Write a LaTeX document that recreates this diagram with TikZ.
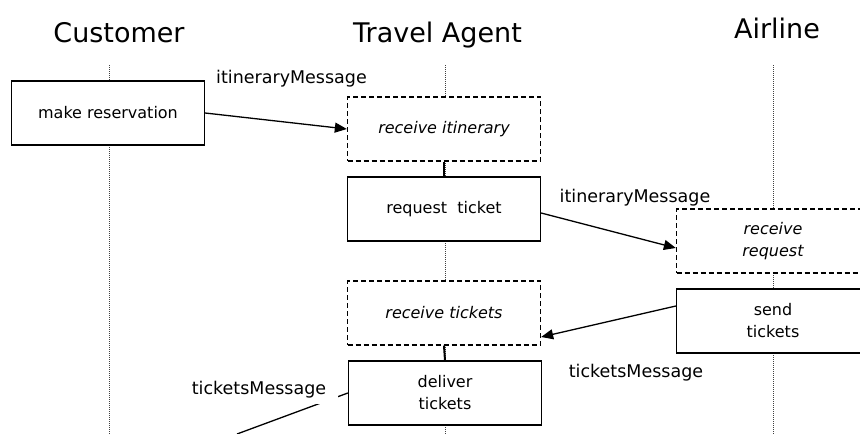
\documentclass[tikz,border=0pt]{standalone}
\usepackage{fontspec}
\setmainfont{DejaVu Sans}
\usepackage{tikz}
\usetikzlibrary{arrows,arrows.meta,positioning}

\begin{document}
\begin{tikzpicture}[x=1pt,y=-1pt,
font=\fontsize{16}{22}\selectfont,
act/.style={draw,fill=white,line width=1.3pt,minimum width=193pt,minimum height=64pt,align=center,inner sep=2pt},
recv/.style={act,dash pattern=on 5pt off 3pt,font=\fontsize{16}{22}\selectfont\itshape},
msg/.style={-{Triangle[length=12pt,width=10pt]},line width=1.3pt},
life/.style={line width=0.8pt,dash pattern=on 1pt off 1pt,black!75},
lbl/.style={font=\fontsize{17.5}{20}\selectfont,anchor=base,inner sep=0pt},
party/.style={font=\fontsize{27}{30}\selectfont,anchor=base}]
\useasboundingbox (0,0) rectangle (860,434);
\clip (0,0) rectangle (860,434);

% Draw parties and lifelines
\node[party] (cust) at (119,42) {Customer};
\node[party] (agent) at (437.5,42) {Travel Agent};
\node[party] (air) at (777,38) {Airline};
\draw[life] (109,65) coordinate (custTop) -- (109,434) coordinate (custEnd);
\draw[life] (445,65) coordinate (agentTop) -- (445,434) coordinate (agentEnd);
\draw[life] (773,65) coordinate (airTop) -- (773,434) coordinate (airEnd);

% Activities
\node[act] (res) at (108,113) {make reservation};
\node[recv] (recvIt) at (444,129) {receive itinerary};
\node[act] (reqTk) at (444,209) {request\ \ ticket};
\node[recv] (recvTk) at (444,313) {receive tickets};
\node[act] (delTk) at (445,393) {deliver\\tickets};
\node[recv] (recvReq) at (773,241) {receive\\request};
\node[act] (sendTk) at (773,321) {send\\tickets};

\draw[line width=2pt] (recvIt.south) -- (reqTk.north);
\draw[line width=2pt] (recvTk.south) -- (delTk.north);

% Messages
\draw[msg] (res.east) -- (recvIt.west);
\draw[msg] ([yshift=-4pt]reqTk.east) -- ([yshift=-7pt]recvReq.west);
\draw[msg] ([yshift=15pt]sendTk.west) -- ([yshift=-24pt]recvTk.east);
\draw[line width=1.3pt] (delTk.west) -- (237,434) coordinate (out);

\node[lbl] (m1) at (291.5,83) {itineraryMessage};
\node[lbl] (m2) at (635,202) {itineraryMessage};
\node[lbl] (m3) at (636,377) {ticketsMessage};
\node[lbl,fill=white,inner xsep=12pt,inner ysep=6pt] (m4) at (259,394) {ticketsMessage};

\end{tikzpicture}
\end{document}
